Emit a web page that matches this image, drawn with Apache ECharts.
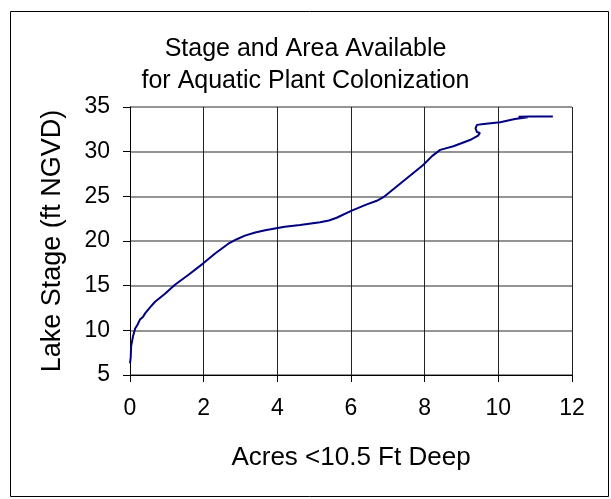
<!DOCTYPE html>
<html>
<head>
<meta charset="utf-8">
<script src="https://cdn.jsdelivr.net/npm/echarts@6/dist/echarts.min.js"></script>
<style>
  html, body { margin: 0; padding: 0; background: #fff; }
  #main { width: 611px; height: 499px; }
</style>
</head>
<body>
<div id="main"></div>
<script>
// acres < 10.5 ft deep (x) vs lake stage, ft NGVD (y)
var acres = [0.00, 0.02, 0.03, 0.06, 0.08, 0.12, 0.14, 0.20, 0.27, 0.35, 0.41, 0.55, 0.68,
  0.95, 1.22, 1.58, 1.99, 2.31, 2.67, 2.90, 3.12, 3.40, 3.67, 4.20, 4.62, 5.16, 5.40, 5.61,
  6.02, 6.43, 6.70, 6.88, 7.24, 7.60, 7.96, 8.20, 8.42, 8.78, 9.23, 9.45, 9.50, 9.42, 9.38,
  9.42, 9.60, 10.05, 10.45, 10.80, 10.55, 10.85, 11.48];
var stage = [6.3, 7.0, 8.2, 8.3, 9.3, 9.4, 10.2, 10.6, 11.2, 11.5, 11.9, 12.6, 13.2,
  14.1, 15.1, 16.2, 17.5, 18.6, 19.7, 20.2, 20.6, 20.95, 21.2, 21.6, 21.8, 22.1, 22.3, 22.6,
  23.4, 24.1, 24.5, 24.9, 26.1, 27.3, 28.5, 29.5, 30.2, 30.6, 31.3, 31.8, 32.1, 32.2, 32.6,
  33.0, 33.1, 33.3, 33.65, 33.85, 33.9, 33.95, 33.95];

var titleText = 'Stage and Area Available\nfor Aquatic Plant Colonization';
var xName = 'Acres <10.5 Ft Deep';
var yName = 'Lake Stage (ft NGVD)';

var font = 'Liberation Sans, Arial, sans-serif';

var points = acres.map(function (a, i) { return [a, stage[i]]; });

var myChart = echarts.init(document.getElementById('main'));
var option = {
  backgroundColor: '#fff',
  animation: false,
  title: {
    text: titleText,
    left: 'center',
    top: 28,
    textStyle: { fontFamily: font, fontSize: 25, fontWeight: 'normal', color: '#000', lineHeight: 32 }
  },
  graphic: [{
    type: 'rect',
    shape: { x: 10.5, y: 11.5, width: 598, height: 485 },
    style: { fill: 'none', stroke: '#000', lineWidth: 1 },
    silent: true
  }],
  grid: { left: 130, right: 39, top: 107, bottom: 124 },
  xAxis: {
    type: 'value',
    min: 0, max: 12, interval: 2,
    name: xName,
    nameLocation: 'middle',
    nameGap: 70,
    nameTextStyle: { fontFamily: font, fontSize: 26, color: '#000' },
    axisLine: { show: true, lineStyle: { color: '#000', width: 1 } },
    axisTick: { show: true, length: 7, lineStyle: { color: '#000' } },
    axisLabel: { margin: 22, fontFamily: font, fontSize: 23, color: '#000' },
    splitLine: { show: true, lineStyle: { color: '#222', width: 1 } }
  },
  yAxis: {
    type: 'value',
    min: 5, max: 35, interval: 5,
    name: yName,
    nameLocation: 'middle',
    nameGap: 64,
    nameTextStyle: { fontFamily: font, fontSize: 27, color: '#000' },
    axisLine: { show: true, lineStyle: { color: '#000', width: 1 } },
    axisTick: { show: true, length: 7, lineStyle: { color: '#000' } },
    axisLabel: { margin: 20, fontFamily: font, fontSize: 23, color: '#000' },
    splitLine: { show: true, lineStyle: { color: '#707070', width: 1.5 } }
  },
  series: [{
    type: 'line',
    data: points,
    showSymbol: false,
    lineStyle: { color: '#000080', width: 2 }
  }]
};
myChart.setOption(option);
</script>
</body>
</html>
